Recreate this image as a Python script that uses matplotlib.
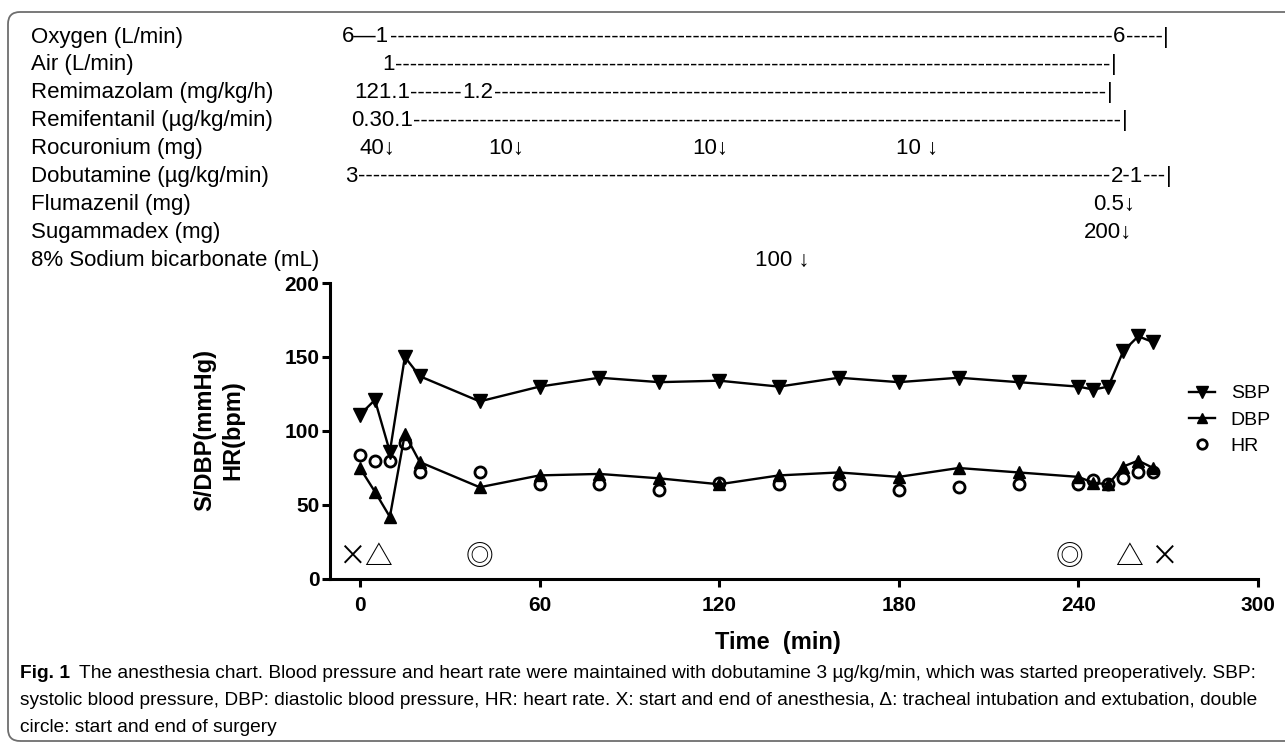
import matplotlib
matplotlib.use('Agg')
import matplotlib.pyplot as plt
from matplotlib.patches import FancyBboxPatch
from matplotlib.transforms import blended_transform_factory, IdentityTransform

plt.rcParams['font.family'] = ['Liberation Sans', 'DejaVu Sans']

# vital signs over time
times = [0, 5, 10, 15, 20, 40, 60, 80, 100, 120, 140, 160, 180, 200, 220, 240, 245, 250, 255, 260, 265]
sbp = [111, 121, 86, 150, 137, 120, 130, 136, 133, 134, 130, 136, 133, 136, 133, 130, 128, 130, 154, 164, 160]
dbp = [75, 59, 42, 98, 79, 62, 70, 71, 68, 64, 70, 72, 69, 75, 72, 69, 65, 64, 76, 80, 75]
hr = [84, 80, 80, 92, 72, 72, 64, 64, 60, 65, 64, 64, 60, 62, 64, 64, 67, 64, 68, 72, 72]

# anesthesia / surgery events shown at the bottom of the plot
event_times = [-2.6, 6.2, 40, 237, 257, 268.5]
event_syms = ['×', '△', '◎', '◎', '△', '×']
event_level = 15

# drug rows above the plot
row_labels = ['Oxygen (L/min)', 'Air (L/min)', 'Remimazolam (mg/kg/h)',
              'Remifentanil (µg/kg/min)', 'Rocuronium (mg)', 'Dobutamine (µg/kg/min)',
              'Flumazenil (mg)', 'Sugammadex (mg)', '8% Sodium bicarbonate (mL)']
row_times = [[-6, 250, 268], [7.5, 251], [-2, 34, 250], [-3, 253],
             [0, 43, 111, 179], [-5, 250, 268], [245], [242], [132]]
row_texts = [['6—1', '6', '|'], ['1', '|'], ['121.1', '1.2', '|'], ['0.30.1', '|'],
             ['40↓', '10↓', '10↓', '10 ↓'], ['3', '2-1', '|'], ['0.5↓'], ['200↓'], ['100 ↓']]
row_dashed = [True, True, True, True, False, True, False, False, False]

caption_lines = [
    'The anesthesia chart. Blood pressure and heart rate were maintained with dobutamine 3 µg/kg/min, which was started preoperatively. SBP:',
    'systolic blood pressure, DBP: diastolic blood pressure, HR: heart rate. X: start and end of anesthesia, Δ: tracheal intubation and extubation, double',
    'circle: start and end of surgery',
]

W, H = 1285, 745
fig = plt.figure(figsize=(W / 100, H / 100), dpi=100)
ax = fig.add_axes([330 / W, 166 / H, 928 / W, 296 / H])

def fy(px):
    return 1 - px / H

# frame around the figure
frame = FancyBboxPatch((8, 4), 1320, 729, boxstyle='round,pad=0,rounding_size=12',
                       transform=IdentityTransform(), fill=False, edgecolor='#6e6e6e', lw=1.3)
fig.add_artist(frame)

ax.plot(times, sbp, color='black', lw=1.7, marker='v', ms=9.5, label='SBP')
ax.plot(times, dbp, color='black', lw=1.7, marker='^', ms=8, label='DBP')
ax.plot(times, hr, linestyle='none', marker='o', ms=8, mfc='none', mec='black', mew=2, label='HR')

for t, s in zip(event_times, event_syms):
    ax.text(t, event_level, s, ha='center', va='center', fontsize=20,
            family=['Noto Sans CJK JP', 'DejaVu Sans'])

ax.set_xlim(-10, 300)
ax.set_ylim(0, 200)
ax.set_xticks(range(0, 301, 60))
ax.set_yticks(range(0, 201, 50))
for side in ['top', 'right']:
    ax.spines[side].set_visible(False)
for side in ['left', 'bottom']:
    ax.spines[side].set_linewidth(2.2)
ax.tick_params(width=2.2, length=6, labelsize=15)
ax.tick_params(axis='x', pad=6)
ax.tick_params(axis='y', pad=1.5)
for lab in ax.get_xticklabels() + ax.get_yticklabels():
    lab.set_fontweight('bold')

ax.set_xlabel('Time  (min)', fontsize=17, fontweight='bold')
ax.xaxis.set_label_coords(0.483, -0.175)
ax.set_ylabel('S/DBP(mmHg)\nHR(bpm)', fontsize=17, fontweight='bold', linespacing=1.25)
ax.yaxis.set_label_coords(-0.12, 0.503)
ax.yaxis.label.set_verticalalignment('center')

ax.legend(loc='center left', bbox_to_anchor=(1189 / W, fy(420)), bbox_transform=fig.transFigure,
          frameon=False, fontsize=14, handlelength=1.35, handletextpad=0.8,
          labelspacing=0.45, borderpad=0, borderaxespad=0, markerscale=0.85)

# drug rows: hyphen runs fill the gap after each value, the next value follows the run
renderer = fig.canvas.get_renderer()
trans_top = blended_transform_factory(ax.transData, fig.transFigure)
inv = ax.transData.inverted()
ann_fs = 16
probe = fig.text(0, 0, '-' * 40, fontsize=ann_fs)
hyph_w = probe.get_window_extent(renderer).width / 40
probe.remove()

for i, label in enumerate(row_labels):
    yb = fy(35 + 27.9 * i + 7.5)
    fig.text(31 / W, yb, label, fontsize=ann_fs, va='baseline')
    items = [ax.text(t, yb, s, transform=trans_top, fontsize=ann_fs, va='baseline')
             for t, s in zip(row_times[i], row_texts[i])]
    if row_dashed[i]:
        for a, b in zip(items[:-1], items[1:]):
            x_end = a.get_window_extent(renderer).x1
            x_next = b.get_window_extent(renderer).x0
            n = int(round((x_next - x_end) / hyph_w))
            if n > 0:
                run = ax.text(inv.transform((x_end + 0.5, 0))[0], yb, '-' * n,
                              transform=trans_top, fontsize=ann_fs, va='baseline')
                x_run = run.get_window_extent(renderer).x1
                b.set_x(inv.transform((x_run + 0.5, 0))[0])

# caption, sized so the first line ends where the reference's does
cap_family = ['Liberation Sans Narrow', 'Liberation Sans', 'DejaVu Sans']
cap_fs = 15
fig_lab = fig.text(20 / W, fy(673), 'Fig. 1', fontsize=cap_fs, fontweight='bold',
                   family=cap_family, va='center')
cap_texts = [fig.text(20 / W, fy(673 + 27.5 * k), line, fontsize=cap_fs,
                      family=cap_family, va='center')
             for k, line in enumerate(caption_lines)]
for _ in range(3):
    x_start = fig_lab.get_window_extent(renderer).x1 + 9
    cap_texts[0].set_x(x_start / W)
    w1 = cap_texts[0].get_window_extent(renderer).width
    cap_fs = cap_fs * (1262 - x_start) / w1
    for c in cap_texts + [fig_lab]:
        c.set_fontsize(cap_fs)
cap_texts[0].set_x((fig_lab.get_window_extent(renderer).x1 + 9) / W)

fig.savefig('out.png', dpi=100)
